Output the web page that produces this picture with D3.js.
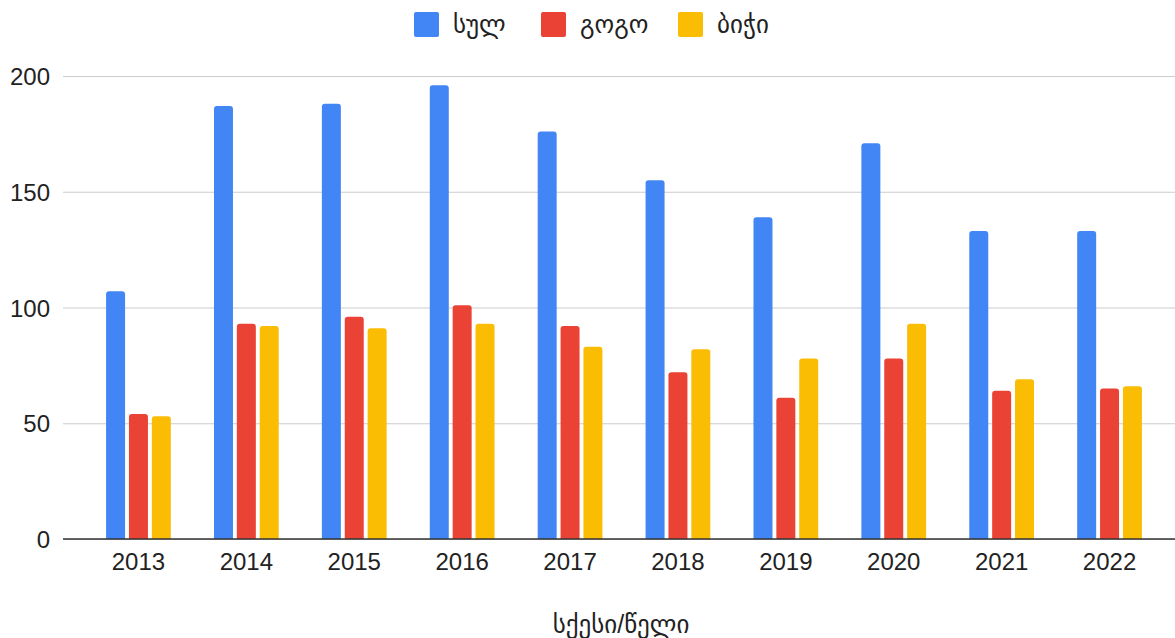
<!DOCTYPE html>
<html>
<head>
<meta charset="utf-8">
<script src="https://cdn.jsdelivr.net/npm/d3@7"></script>
<style>
  body { margin: 0; background: #fff; }
  svg text { font-family: "Liberation Sans", Arial, "DejaVu Sans", sans-serif; }
</style>
</head>
<body>
<svg id="chart" width="1175" height="638"></svg>
<script>
'use strict';

// data
const years = ['2013', '2014', '2015', '2016', '2017', '2018', '2019', '2020', '2021', '2022'];
const seriesNames = ['სულ', 'გოგო', 'ბიჭი'];
const total = [107, 187, 188, 196, 176, 155, 139, 171, 133, 133];
const girls = [54, 93, 96, 101, 92, 72, 61, 78, 64, 65];
const boys = [53, 92, 91, 93, 83, 82, 78, 93, 69, 66];
const yTicks = [0, 50, 100, 150, 200];
const axisTitle = 'სქესი/წელი';

const colors = ['#4285F4', '#EA4335', '#FBBC04'];
const seriesValues = [total, girls, boys];

const svg = d3.select('#chart');
const plot = {left: 63, right: 1175, top: 76, bottom: 539};

const x0 = d3.scaleBand()
  .domain(years)
  .range([84.5, 1163.5])
  .paddingInner(0.4)
  .paddingOuter(0.2);

const x1 = d3.scaleBand()
  .domain(d3.range(seriesNames.length))
  .range([0, x0.bandwidth()])
  .paddingInner(0.17);

const y = d3.scaleLinear().domain([0, 200]).range([plot.bottom, plot.top]);

// grid lines
const yAxis = d3.axisLeft(y)
  .tickValues(yTicks)
  .tickSize(-(plot.right - plot.left))
  .tickPadding(13);

const gy = svg.append('g')
  .attr('transform', `translate(${plot.left},0)`)
  .call(yAxis);
gy.select('.domain').remove();
gy.selectAll('.tick line').attr('stroke', '#cccccc').attr('stroke-width', 1.2);
gy.selectAll('.tick text')
  .attr('font-size', 24)
  .attr('fill', '#222')
  .attr('dy', '0.36em');

// rounded-top bar path
function barPath(x, yTop, w, h, r) {
  r = Math.min(r, h, w / 2);
  return `M${x},${yTop + h}V${yTop + r}Q${x},${yTop} ${x + r},${yTop}` +
    `H${x + w - r}Q${x + w},${yTop} ${x + w},${yTop + r}V${yTop + h}Z`;
}

const groups = svg.append('g').selectAll('g')
  .data(years)
  .join('g')
  .attr('transform', d => `translate(${x0(d)},0)`);

groups.selectAll('path')
  .data((d, i) => seriesValues.map((vals, s) => ({s, v: vals[i]})))
  .join('path')
  .attr('fill', d => colors[d.s])
  .attr('d', d => barPath(x1(d.s), y(d.v), x1.bandwidth(), y(0) - y(d.v), 3));

// baseline + x labels
const xAxis = d3.axisBottom(x0).tickSize(0).tickPadding(14);
const gx = svg.append('g')
  .attr('transform', `translate(0,${plot.bottom})`)
  .call(xAxis);
gx.select('.domain').remove();
gx.append('line')
  .attr('x1', plot.left).attr('x2', plot.right)
  .attr('stroke', '#333').attr('stroke-width', 1.5);
gx.selectAll('.tick text').attr('font-size', 24).attr('fill', '#222');

// axis title
svg.append('text')
  .attr('x', 621).attr('y', 633)
  .attr('text-anchor', 'middle')
  .attr('font-size', 25)
  .attr('fill', '#222')
  .text(axisTitle);

// legend
const legendX = [414, 541, 678];
const legend = svg.append('g').selectAll('g')
  .data(seriesNames)
  .join('g')
  .attr('transform', (d, i) => `translate(${legendX[i]},12)`);

legend.append('rect')
  .attr('width', 25).attr('height', 25).attr('rx', 2)
  .attr('fill', (d, i) => colors[i]);

legend.append('text')
  .attr('x', 39).attr('y', 21)
  .attr('font-size', 25)
  .attr('fill', '#222')
  .text(d => d);
</script>
</body>
</html>
